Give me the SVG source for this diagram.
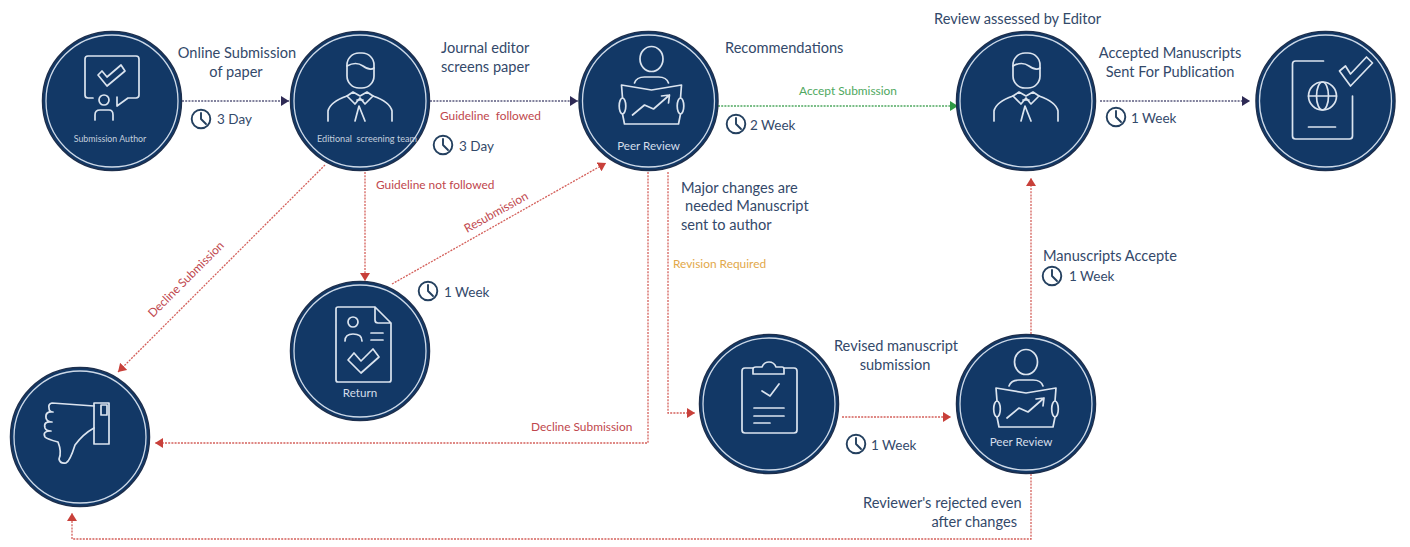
<svg xmlns="http://www.w3.org/2000/svg" width="1410" height="547" viewBox="0 0 1410 547">
<style>
text{font-family:"Lato","Open Sans","Liberation Sans",sans-serif;white-space:pre}
.t{font-size:14.6px;fill:#33496a}
.d{font-size:13.5px;fill:#33496a}
.c{font-size:14.6px;fill:#33496a;text-anchor:middle}
.r{font-size:11.9px;fill:#c0474d}
.w{font-size:11.6px;fill:#d5deea;text-anchor:middle}
.s{font-size:8.8px;fill:#c3cfde;text-anchor:middle}
.i{fill:none;stroke:#dbe4ef;stroke-width:1.7;stroke-linejoin:round;stroke-linecap:round}
.o{fill:#123866;stroke:#1d2f4d;stroke-width:1.5}
.n{fill:none;stroke:#cdd9e8;stroke-width:1.3}
.l{fill:none;stroke-width:1.3;stroke-dasharray:2 1.2}
.navy{stroke:#5a5a7e}
.red{stroke:#d4605b}
.green{stroke:#4fa860}
.k{fill:none;stroke:#24405f;stroke-width:1.9;stroke-linecap:round;stroke-linejoin:round}
</style>
<defs>
<marker id="an" markerUnits="userSpaceOnUse" markerWidth="9" markerHeight="11" refX="8" refY="5.500" orient="auto"><path d="M0,0.5L8,5.500L0,10.500Z" fill="#2e2a55"/></marker>
<marker id="ar" markerUnits="userSpaceOnUse" markerWidth="9" markerHeight="11" refX="8" refY="5.500" orient="auto"><path d="M0,0.5L8,5.500L0,10.500Z" fill="#c8403a"/></marker>
<marker id="ag" markerUnits="userSpaceOnUse" markerWidth="9" markerHeight="11" refX="8" refY="5.500" orient="auto"><path d="M0,0.5L8,5.500L0,10.500Z" fill="#2f9a45"/></marker>
<g id="disc"><circle class="o" r="69.5"/><circle class="n" r="66"/></g>
<g id="clock"><circle class="k" r="9.3"/><path class="k" d="M0,-6V0L5,5"/></g>
<g id="person" class="i">
<rect x="-13" y="-48" width="27" height="35" rx="12"/>
<path d="M-13,-35Q-4,-40 3,-35T14,-33"/>
<path d="M-32,20V10Q-30,1 -13,-5M32,20V10Q30,1 13,-5"/>
<path d="M-13,-5L-7,-9L0,-5L7,-9L13,-5L5,3L0,-3L-5,3Z"/>
<path d="M-3,-1L3,-1M-5,20L-1,5L5,20"/>
</g>
<g id="reader" class="i">
<ellipse cx="0" cy="-42" rx="11.5" ry="12.5"/>
<path d="M-17,-18Q-15,-24 -7,-24H7Q15,-24 17,-18"/>
<path d="M-29,-3L-30,-16L0,-11L30,-16L29,-3M-29,13L-27,23H27L29,13"/>
<ellipse cx="-29" cy="5" rx="3.3" ry="8"/><ellipse cx="29" cy="5" rx="3.3" ry="8"/>
<path d="M-19,14L-7,4L2,8L18,-6M10,-5L18,-6L17,2"/>
</g>
</defs>
<rect width="1410" height="547" fill="#fff"/>
<g id="connectors">
<path class="l navy" marker-end="url(#an)" d="M182,101H289"/>
<path class="l navy" marker-end="url(#an)" d="M430,101H578"/>
<path class="l green" marker-end="url(#ag)" d="M718,106H958"/>
<path class="l navy" marker-end="url(#an)" d="M1100,101H1250"/>
<path class="l red" marker-end="url(#ar)" d="M365,172V281"/>
<path class="l red" marker-end="url(#ar)" d="M325,165L118,372"/>
<path class="l red" marker-end="url(#ar)" d="M392,284L606,163"/>
<path class="l red" marker-end="url(#ar)" d="M648,172V443H155"/>
<path class="l red" marker-end="url(#ar)" d="M668,172V413H695"/>
<path class="l red" marker-end="url(#ar)" d="M842,417H951"/>
<path class="l red" marker-end="url(#ar)" d="M1031,334V178"/>
<path class="l red" marker-end="url(#ar)" d="M1031,474V539H72V513"/>
</g>
<g id="node-author" transform="translate(112,101)"><use href="#disc"/>
<g class="i"><path d="M-19,-3H-24Q-27,-3 -27,-6V-42Q-27,-45 -24,-45H24Q27,-45 27,-42V-6Q27,-3 24,-3L16,-3L5,5V-4"/>
<path d="M-14,-26L-5,-15L13,-30L9,-36L-5,-24L-10,-30Z"/>
<circle cx="-8" cy="-1" r="5"/><path d="M-17,19V14Q-17,9 -12,9H-3Q1,9 1,14V19"/></g>
<text class="s" x="-2" y="41">Submission Author</text></g>
<g id="node-editorial" transform="translate(360,101)"><use href="#disc"/><use href="#person"/>
<text class="s" style="font-size:9.1px" x="7" y="41">Editional  screening team</text></g>
<g id="node-peer" transform="translate(648.500,101)"><use href="#disc"/><use href="#reader" x="3"/>
<text class="w" x="0" y="49">Peer Review</text></g>
<g id="node-assess" transform="translate(1026,101)"><use href="#disc"/><use href="#person"/></g>
<g id="node-publication" transform="translate(1325.500,101)"><use href="#disc"/>
<g class="i"><path d="M-2,-40H-30Q-33,-40 -33,-37V35Q-33,38 -30,38H24Q27,38 27,35V-5"/>
<circle cx="-3" cy="-5" r="14"/><ellipse cx="-3" cy="-5" rx="6" ry="14"/><path d="M-17,-5H11M-17,26H10"/>
<path d="M14,-30L25,-15L47,-38L41,-44L25,-27L20,-35Z"/></g></g>
<g id="node-return" transform="translate(360,351)"><use href="#disc"/>
<g class="i"><path d="M15,-44H-22Q-24,-44 -24,-42V29Q-24,31 -22,31H29Q31,31 31,29V-28L15,-44V-31Q15,-28 18,-28H31"/>
<circle cx="-7" cy="-29" r="5"/><path d="M-15,-10Q-15,-17 -7,-17Q2,-17 2,-10M11,-18H23M11,-11H23"/>
<path d="M-12,9L1,22L19,6L13,-2L1,10L-6,2Z"/></g>
<text class="w" x="0" y="46">Return</text></g>
<g id="node-decline" transform="translate(80,437)"><use href="#disc"/>
<g class="i"><rect x="14" y="-34" width="15" height="41"/><rect x="21" y="-32" width="6" height="10"/>
<path d="M14,-31L-28,-34Q-32,-33 -31,-29Q-31,-25 -27,-25Q-35,-26 -34,-19Q-33,-15 -28,-15Q-37,-16 -35,-9Q-34,-6 -29,-6Q-38,-6 -35,0Q-33,2 -22,5Q-18,15 -21,22Q-20,27 -14,26Q-10,24 -5,8Q3,-3 14,-9"/></g></g>
<g id="node-revised" transform="translate(769,404)"><use href="#disc"/>
<g class="i"><path d="M-16,-36H-24Q-27,-36 -27,-33V26Q-27,29 -24,29H25Q28,29 28,26V-33Q28,-36 25,-36H15"/>
<path d="M-16,-30V-35Q-16,-37 -13,-37H-7Q-5,-42 0,-42Q5,-42 7,-37H13Q15,-37 15,-35V-30Z"/>
<path d="M-7,-13L1,-8L10,-20M-15,4H15M-15,12H15M-15,19H1"/></g></g>
<g id="node-peer2" transform="translate(1026,404)"><use href="#disc"/><use href="#reader"/>
<text class="w" x="-5" y="42">Peer Review</text></g>
<g id="labels">
<text class="c" x="237" y="58">Online Submission</text>
<text class="c" x="236" y="77">of paper</text>
<use href="#clock" x="201" y="119"/><text class="d" x="217" y="124">3 Day</text>
<text class="t" x="441" y="53">Journal editor</text>
<text class="t" x="441" y="72">screens paper</text>
<text class="r" x="440" y="120">Guideline  followed</text>
<use href="#clock" x="443" y="145"/><text class="d" x="459" y="151">3 Day</text>
<text class="r" x="376" y="189">Guideline not followed</text>
<text class="r" transform="translate(467,233) rotate(-29)">Resubmission</text>
<text class="r" transform="translate(153,318) rotate(-45)">Decline Submission</text>
<use href="#clock" x="428" y="291"/><text class="d" x="444" y="297">1 Week</text>
<text class="t" x="725" y="53">Recommendations</text>
<text class="r" style="fill:#4fa860" x="799" y="95">Accept Submission</text>
<use href="#clock" x="736" y="124"/><text class="d" x="750" y="130">2 Week</text>
<text class="t" x="681" y="193">Major changes are</text>
<text class="t" x="685" y="211">needed Manuscript</text>
<text class="t" x="681" y="230">sent to author</text>
<text class="r" style="fill:#e2a84a" x="673" y="268">Revision Required</text>
<text class="r" x="531" y="431">Decline Submission</text>
<text class="t" x="934" y="24">Review assessed by Editor</text>
<text class="c" x="1170" y="58">Accepted Manuscripts</text>
<text class="c" x="1170" y="77">Sent For Publication</text>
<use href="#clock" x="1116" y="117"/><text class="d" x="1131" y="123">1 Week</text>
<text class="t" x="1043" y="261">Manuscripts Accepte</text>
<use href="#clock" x="1052" y="276"/><text class="d" x="1069" y="281">1 Week</text>
<text class="c" x="896" y="351">Revised manuscript</text>
<text class="c" x="895" y="370">submission</text>
<use href="#clock" x="856" y="444"/><text class="d" x="871" y="450">1 Week</text>
<text class="t" x="863" y="508">Reviewer's rejected even</text>
<text class="t" text-anchor="end" x="1017" y="527">after changes</text>
</g>
</svg>
